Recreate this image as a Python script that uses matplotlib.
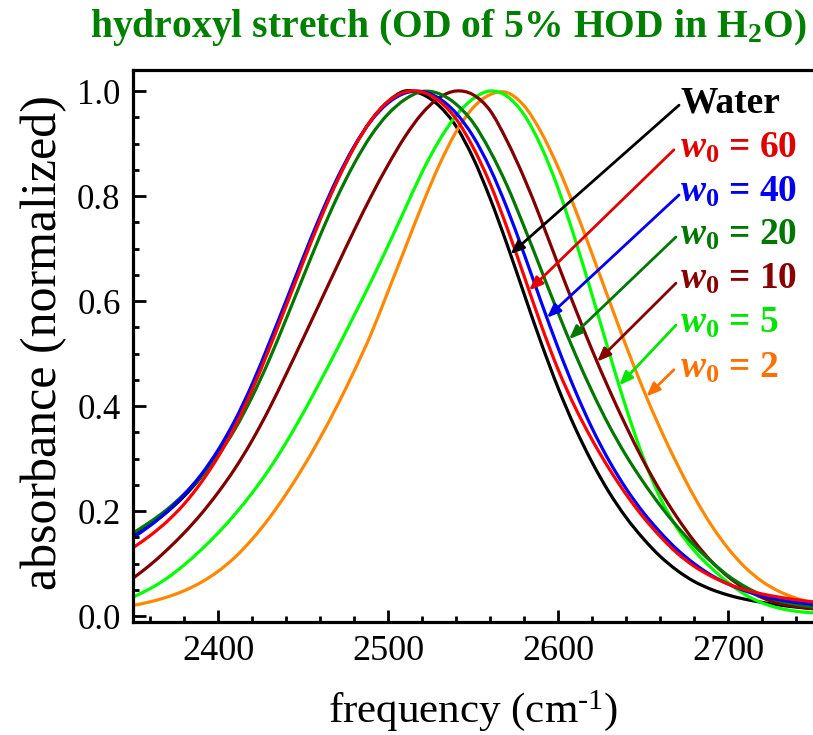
import numpy as np
import matplotlib
matplotlib.use("Agg")
import matplotlib.pyplot as plt
from matplotlib.ticker import MultipleLocator, FormatStrFormatter
from matplotlib.path import Path
from matplotlib.patches import PathPatch

plt.rcParams['font.family'] = ['Liberation Serif', 'DejaVu Serif']
plt.rcParams['mathtext.fontset'] = 'custom'
plt.rcParams['mathtext.rm'] = 'Liberation Serif'
plt.rcParams['mathtext.it'] = 'Liberation Serif:italic:bold'
plt.rcParams['mathtext.bf'] = 'Liberation Serif:bold'

# ---------------- data ----------------
freq = list(range(2350, 2751, 10))

water = [0.152, 0.173, 0.198, 0.228, 0.265, 0.311, 0.367, 0.435, 0.512, 0.594,
         0.677, 0.757, 0.829, 0.893, 0.944, 0.980, 1.000, 0.994, 0.972, 0.933,
         0.873, 0.796, 0.708, 0.614, 0.521, 0.435, 0.359, 0.293, 0.236, 0.188,
         0.148, 0.114, 0.087, 0.066, 0.051, 0.040, 0.032, 0.026, 0.021, 0.017,
         0.014]
w60 = [0.130, 0.153, 0.180, 0.213, 0.254, 0.303, 0.361, 0.430, 0.508, 0.590,
       0.673, 0.754, 0.828, 0.892, 0.944, 0.980, 0.998, 0.998, 0.981, 0.947,
       0.893, 0.824, 0.740, 0.648, 0.555, 0.470, 0.398, 0.336, 0.281, 0.232,
       0.189, 0.152, 0.120, 0.095, 0.076, 0.061, 0.050, 0.042, 0.036, 0.031,
       0.027]
w40 = [0.149, 0.172, 0.199, 0.231, 0.269, 0.316, 0.373, 0.441, 0.519, 0.600,
       0.682, 0.761, 0.833, 0.894, 0.943, 0.977, 0.996, 0.999, 0.986, 0.958,
       0.914, 0.853, 0.777, 0.690, 0.599, 0.511, 0.430, 0.358, 0.296, 0.243,
       0.198, 0.160, 0.127, 0.100, 0.078, 0.061, 0.048, 0.038, 0.031, 0.026,
       0.022]
w20 = [0.158, 0.179, 0.203, 0.232, 0.266, 0.306, 0.356, 0.417, 0.487, 0.565,
       0.645, 0.724, 0.797, 0.861, 0.915, 0.956, 0.984, 0.999, 0.995, 0.975,
       0.940, 0.886, 0.820, 0.742, 0.660, 0.578, 0.500, 0.428, 0.363, 0.306,
       0.256, 0.211, 0.171, 0.135, 0.104, 0.077, 0.056, 0.040, 0.029, 0.022,
       0.017]
w10 = [0.072, 0.097, 0.126, 0.158, 0.194, 0.235, 0.281, 0.334, 0.394, 0.460,
       0.528, 0.597, 0.666, 0.734, 0.799, 0.859, 0.913, 0.957, 0.987, 1.000,
       0.993, 0.963, 0.905, 0.835, 0.755, 0.670, 0.587, 0.507, 0.432, 0.362,
       0.297, 0.239, 0.188, 0.143, 0.105, 0.075, 0.052, 0.035, 0.024, 0.018,
       0.014]
w5 = [0.036, 0.052, 0.072, 0.097, 0.126, 0.158, 0.194, 0.234, 0.279, 0.330,
      0.386, 0.446, 0.508, 0.572, 0.637, 0.705, 0.775, 0.845, 0.905, 0.953,
      0.985, 1.000, 0.990, 0.955, 0.895, 0.815, 0.718, 0.612, 0.503, 0.397,
      0.303, 0.226, 0.168, 0.125, 0.092, 0.064, 0.041, 0.025, 0.015, 0.009,
      0.006]
w2 = [0.020, 0.027, 0.036, 0.048, 0.064, 0.085, 0.112, 0.146, 0.186, 0.232,
      0.283, 0.339, 0.400, 0.466, 0.537, 0.618, 0.700, 0.782, 0.858, 0.922,
      0.968, 0.993, 0.997, 0.972, 0.922, 0.855, 0.776, 0.690, 0.602, 0.515,
      0.433, 0.358, 0.290, 0.228, 0.174, 0.129, 0.093, 0.066, 0.047, 0.034,
      0.024]

labels = ["Water", "60", "40", "20", "10", "5", "2"]
curves = [water, w60, w40, w20, w10, w5, w2]
line_colors = ['#000000', '#ff0000', '#0000ff', '#007800', '#800000', '#00ff00', '#ff8800']
text_colors = ['#000000', '#e00000', '#0000ee', '#007700', '#880000', '#00e600', '#ff7000']
# arrow target frequencies on each curve
arrow_freq = [2572, 2583, 2593.5, 2606.5, 2623, 2636, 2652]
# label anchor (frequency, absorbance) for text baseline and arrow start
label_x = 2672
label_base = [0.960, 0.874, 0.790, 0.707, 0.623, 0.539, 0.455]
arrow_start = [(2671.2, 0.973), (2668.2, 0.888), (2671.2, 0.802), (2669.4, 0.722),
               (2669.4, 0.634), (2669.4, 0.554), (2668.2, 0.469)]


def smooth_path(xs, ys):
    """Cubic Bezier path through the points (Catmull-Rom tangents)."""
    xs = np.asarray(xs, float)
    ys = np.asarray(ys, float)
    n = len(xs)
    m = np.empty(n)
    m[1:-1] = (ys[2:] - ys[:-2]) / (xs[2:] - xs[:-2])
    m[0] = (ys[1] - ys[0]) / (xs[1] - xs[0])
    m[-1] = (ys[-1] - ys[-2]) / (xs[-1] - xs[-2])
    verts = [(xs[0], ys[0])]
    codes = [Path.MOVETO]
    for i in range(n - 1):
        h = xs[i + 1] - xs[i]
        verts += [(xs[i] + h / 3, ys[i] + m[i] * h / 3),
                  (xs[i + 1] - h / 3, ys[i + 1] - m[i + 1] * h / 3),
                  (xs[i + 1], ys[i + 1])]
        codes += [Path.CURVE4] * 3
    return Path(verts, codes)


# ---------------- figure ----------------
W, H = 813, 735
fig = plt.figure(figsize=(W / 100, H / 100), dpi=100)
ax = fig.add_axes([133 / W, (H - 622) / H, 680 / W, 552 / H])

draw_order = [0, 6, 5, 4, 3, 2, 1]
for i in draw_order:
    patch = PathPatch(smooth_path(freq, curves[i]), fill=False,
                      edgecolor=line_colors[i], lw=2.3, capstyle='round',
                      transform=ax.transData)
    ax.add_patch(patch)

ax.set_xlim(2350, 2750)
ax.set_ylim(-0.0114, 1.04)

ax.xaxis.set_major_locator(MultipleLocator(100))
ax.xaxis.set_minor_locator(MultipleLocator(20))
ax.yaxis.set_major_locator(MultipleLocator(0.2))
ax.yaxis.set_minor_locator(MultipleLocator(0.05))
ax.yaxis.set_major_formatter(FormatStrFormatter('%.1f'))

ax.tick_params(which='both', direction='in', top=False, right=False,
               width=2.0, color='black')
ax.tick_params(axis='y', labelsize=25)
ax.tick_params(axis='x', labelsize=26)
ax.tick_params(which='major', length=9, pad=9)
ax.tick_params(which='minor', length=4.5)

for s in ['left', 'bottom', 'top']:
    ax.spines[s].set_linewidth(2.3)
ax.spines['right'].set_visible(False)

# labels and arrows
for i in range(7):
    fx = arrow_freq[i]
    fy = float(np.interp(fx, freq, curves[i]))
    ax.annotate('', xy=(fx, fy), xytext=arrow_start[i],
                arrowprops=dict(arrowstyle='-|>,head_length=0.45,head_width=0.18',
                                color=text_colors[i], lw=2.0, shrinkA=0, shrinkB=0,
                                mutation_scale=18))
    if i == 0:
        txt = labels[i]
    else:
        txt = r'$w_{\mathbf{0}}$' + ' = ' + labels[i]
    ax.text(label_x, label_base[i], txt, color=text_colors[i], fontsize=27,
            fontweight='bold', ha='left', va='baseline')

# title and axis labels
fig.text(448 / W, 1 - 37 / H, r'hydroxyl stretch (OD of 5% HOD in H$_\mathbf{2}$O)',
         color='#008000', fontsize=28.5, fontweight='bold', ha='center', va='baseline')
fig.text(473 / W, 1 - 722 / H, r'frequency (cm$^{\text{-1}}$)', fontsize=31,
         ha='center', va='baseline')
fig.text(44 / W, 1 - 343 / H, 'absorbance (normalized)', fontsize=36,
         rotation=90, ha='center', va='center')

fig.savefig('out.png', dpi=100)
